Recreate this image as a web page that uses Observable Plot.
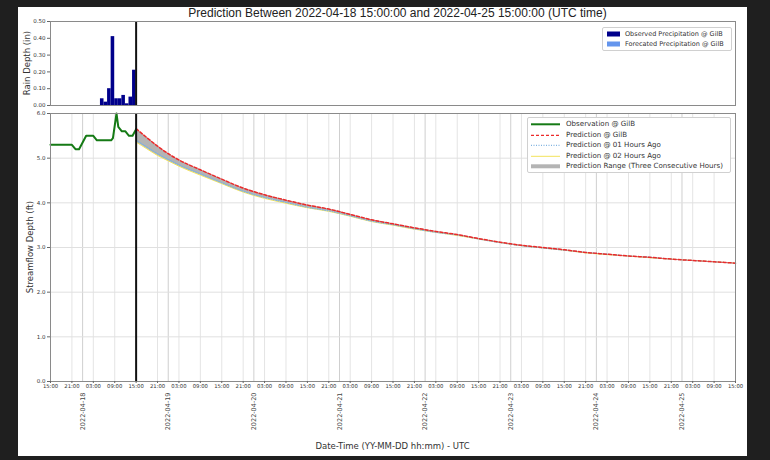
<!DOCTYPE html>
<html><head><meta charset="utf-8">
<script src="https://cdn.jsdelivr.net/npm/d3@7"></script>
<script src="https://cdn.jsdelivr.net/npm/@observablehq/plot@0.6"></script>
<style>
body{margin:0;width:770px;height:460px;background:#1f1f1f;position:relative;overflow:hidden;font-family:"DejaVu Sans",sans-serif;}
#card{position:absolute;left:18px;top:7px;width:729px;height:449px;background:#fff;}
#title{position:absolute;left:15px;width:729px;top:0px;text-align:center;font-family:"Liberation Sans",sans-serif;font-size:12px;color:#222;line-height:13px;}
#topPlot{position:absolute;left:0;top:9px;}
#botPlot{position:absolute;left:0;top:101px;}
.ylab{position:absolute;font-size:8.5px;color:#333;white-space:nowrap;transform:translate(-50%,-50%) rotate(-90deg);}
#xlab{position:absolute;left:10px;width:729px;top:434px;text-align:center;font-size:8.5px;color:#333;}
.legend{position:absolute;background:#fff;border:1px solid #d0d0d0;border-radius:2px;color:#333;}
.row{position:absolute;left:0;white-space:nowrap;}
.row svg{position:absolute;left:0;top:0;}
.row span{position:absolute;top:0;}
</style></head><body>
<div id="card">
  <div id="title">Prediction Between 2022-04-18 15:00:00 and 2022-04-25 15:00:00 (UTC time)</div>
  <div id="topPlot"></div>
  <div id="botPlot"></div>
  <div class="ylab" style="left:9px;top:56px;">Rain Depth (in)</div>
  <div class="ylab" style="left:12px;top:240px;">Streamflow Depth (ft)</div>
  <div id="xlab">Date-Time (YY-MM-DD hh:mm) - UTC</div>
  <div id="leg1" class="legend" style="left:584px;top:20px;width:128px;height:22px;font-size:6.5px;"></div>
  <div id="leg2" class="legend" style="left:509px;top:110px;width:202px;height:54px;font-size:7.1px;"></div>
</div>
<script>
// ---- data ----
const axisStart = "2022-04-17T15:00:00Z";
const nowTime   = "2022-04-18T15:00:00Z";
const axisEnd   = "2022-04-25T15:00:00Z";

// observed hourly precipitation (in), hour start on 2022-04-18 UTC
const precipHour = [5, 6, 7, 8, 9, 10, 11, 12, 13, 14];
const precipObs  = [0.04, 0.02, 0.10, 0.41, 0.04, 0.04, 0.06, 0.01, 0.05, 0.21];

// observed streamflow depth (ft), hours after axis start
const obsHours = [0,1,2,3,4,5,6,7,8,9,10,11,12,13,14,15,16,17,17.5,18.5,19,20,21,22,23,24];
const obsDepth = [5.3,5.3,5.3,5.3,5.3,5.3,5.3,5.2,5.2,5.35,5.5,5.5,5.5,5.4,5.4,5.4,5.4,5.4,5.45,6.0,5.7,5.6,5.6,5.5,5.5,5.65];

// predictions (ft), hours after 2022-04-18 15:00
const predHours = [0,3,6,9,12,18,24,30,36,42,48,54,60,66,72,78,84,90,96,102,108,114,120,126,132,138,144,150,156,162,168];
const predNow = [5.66,5.46,5.27,5.10,4.96,4.74,4.53,4.33,4.18,4.06,3.95,3.86,3.74,3.62,3.53,3.44,3.36,3.29,3.20,3.12,3.05,3.00,2.95,2.89,2.85,2.81,2.78,2.74,2.71,2.68,2.65];
const pred1h  = [5.40,5.25,5.10,4.97,4.85,4.65,4.45,4.26,4.12,4.01,3.90,3.82,3.71,3.59,3.51,3.42,3.34,3.28,3.19,3.11,3.04,2.99,2.94,2.89,2.85,2.81,2.78,2.74,2.71,2.68,2.65];
const pred2h  = [5.36,5.21,5.06,4.94,4.82,4.62,4.43,4.24,4.10,3.99,3.89,3.81,3.70,3.58,3.50,3.41,3.34,3.27,3.19,3.11,3.04,2.99,2.94,2.88,2.84,2.81,2.77,2.74,2.71,2.68,2.65];

const hourTickFormat = "%H:%M";
const dateTickFormat = "%Y-%m-%d";

// ---- build ----
const H = 3600e3;
const t0 = new Date(axisStart), tNow = new Date(nowTime), t1 = new Date(axisEnd);
const precip = precipHour.map((h, i) => {
  const a = new Date(Date.UTC(2022, 3, 18, h));
  return {x1: a, x2: new Date(+a + H), v: precipObs[i]};
});
const obs = obsHours.map((h, i) => ({t: new Date(+t0 + h * H), v: obsDepth[i]}));
const pred = predHours.map((h, i) => ({
  t: new Date(+tNow + h * H), p0: predNow[i], p1: pred1h[i], p2: pred2h[i],
  lo: Math.min(predNow[i], pred1h[i], pred2h[i]), hi: Math.max(predNow[i], pred1h[i], pred2h[i])
}));
const sixTicks = d3.range(0, 33).map(k => new Date(+t0 + k * 6 * H));
const dayTicks = d3.utcDay.range(t0, t1);

const font = "DejaVu Sans, sans-serif";
const xDomain = [t0, t1];

const rainChart = Plot.plot({
  width: 729, height: 95,
  marginLeft: 32, marginRight: 12, marginTop: 5, marginBottom: 6,
  style: {fontFamily: font, fontSize: "6px", color: "#333", background: "transparent"},
  x: {type: "utc", domain: xDomain, axis: null},
  y: {domain: [0, 0.5], label: null},
  marks: [
    Plot.rectY(precip, {x1: "x1", x2: "x2", y: "v", fill: "#00008b"}),
    Plot.ruleX([tNow], {stroke: "#111", strokeWidth: 2}),
    Plot.frame({stroke: "#8a8a8a"}),
    Plot.axisY({ticks: [0, 0.1, 0.2, 0.3, 0.4, 0.5], tickFormat: ".2f", tickSize: 3, tickPadding: 2, fontSize: 5.5, label: null, stroke: "#666"})
  ]
});
document.getElementById("topPlot").appendChild(rainChart);

const flowChart = Plot.plot({
  width: 729, height: 348,
  marginLeft: 32, marginRight: 12, marginTop: 5, marginBottom: 75,
  style: {fontFamily: font, fontSize: "6px", color: "#333", background: "transparent"},
  x: {type: "utc", domain: xDomain, label: null},
  y: {domain: [0, 6], label: null},
  marks: [
    Plot.gridX(sixTicks, {stroke: "#e4e4e4", strokeOpacity: 1}),
    Plot.gridX(dayTicks, {stroke: "#cfcfcf", strokeOpacity: 1}),
    Plot.gridY([1, 2, 3, 4, 5], {stroke: "#e0e0e0", strokeOpacity: 1}),
    Plot.areaY(pred, {x: "t", y1: "lo", y2: "hi", fill: "#b4b4b4", curve: "monotone-x"}),
    Plot.lineY(pred, {x: "t", y: "p2", stroke: "#f3e35a", strokeWidth: 1, curve: "monotone-x"}),
    Plot.lineY(pred, {x: "t", y: "p1", stroke: "#7fb2e0", strokeWidth: 1.2, strokeDasharray: "1,1.5", curve: "monotone-x"}),
    Plot.lineY(pred, {x: "t", y: "p0", stroke: "#ec2a2a", strokeWidth: 1.5, strokeDasharray: "3,2", curve: "monotone-x"}),
    Plot.lineY(obs, {x: "t", y: "v", stroke: "#157a15", strokeWidth: 2}),
    Plot.ruleX([tNow], {stroke: "#111", strokeWidth: 2}),
    Plot.frame({stroke: "#8a8a8a"}),
    Plot.axisY({ticks: [0, 1, 2, 3, 4, 5, 6], tickFormat: ".1f", tickSize: 3, tickPadding: 2, fontSize: 5.5, label: null, stroke: "#666"}),
    Plot.axisX(sixTicks, {tickFormat: hourTickFormat, tickSize: 2, tickPadding: 1, fontSize: 5.3, label: null, stroke: "#666"}),
    Plot.axisX(dayTicks, {tickFormat: dateTickFormat, tickSize: 0, tickPadding: 11, tickRotate: -90, fontSize: 6.5, label: null, fill: "#444"})
  ]
});
document.getElementById("botPlot").appendChild(flowChart);

// ---- legends ----
function legend(el, items, rowH, y0, sampleW, textX) {
  items.forEach((it, i) => {
    const row = document.createElement("div");
    row.className = "row";
    row.style.top = (y0 + i * rowH) + "px";
    row.style.height = rowH + "px";
    row.style.width = "100%";
    const s = d3.create("svg").attr("width", sampleW + 4).attr("height", rowH);
    if (it.patch) s.append("rect").attr("x", 4).attr("y", rowH / 2 - 2.5).attr("width", sampleW - 4).attr("height", 5).attr("fill", it.color);
    else s.append("line").attr("x1", 3).attr("x2", sampleW).attr("y1", rowH / 2).attr("y2", rowH / 2)
      .attr("stroke", it.color).attr("stroke-width", it.w).attr("stroke-dasharray", it.dash || null);
    row.appendChild(s.node());
    const sp = document.createElement("span");
    sp.textContent = it.label;
    sp.style.left = textX + "px";
    sp.style.lineHeight = rowH + "px";
    row.appendChild(sp);
    el.appendChild(row);
  });
}
legend(document.getElementById("leg1"), [
  {label: "Observed Precipitation @ GilB", color: "#00008b", patch: true},
  {label: "Forecated Precipitation @ GilB", color: "#6495ed", patch: true}
], 10, 1, 17, 22);
legend(document.getElementById("leg2"), [
  {label: "Observation @ GilB", color: "#157a15", w: 2},
  {label: "Prediction @ GilB", color: "#ec2a2a", w: 1.3, dash: "3,2"},
  {label: "Prediction @ 01 Hours Ago", color: "#7fb2e0", w: 1.2, dash: "1,1.5"},
  {label: "Prediction @ 02 Hours Ago", color: "#f3e35a", w: 1},
  {label: "Prediction Range (Three Consecutive Hours)", color: "#b4b4b4", w: 4}
], 10.6, 1, 32, 38);
</script>
</body></html>
